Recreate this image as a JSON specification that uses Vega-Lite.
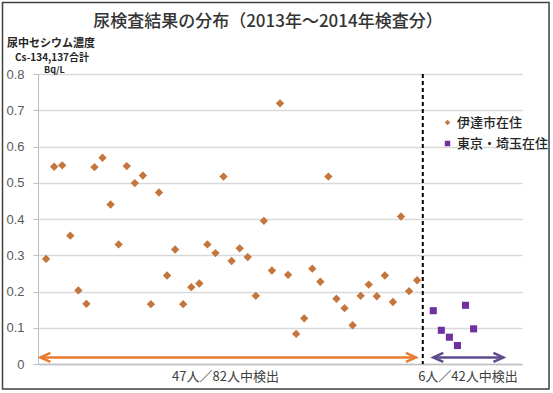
{
  "$schema": "https://vega.github.io/schema/vega-lite/v6.json",
  "width": 484,
  "height": 290,
  "autosize": "none",
  "padding": {"left": 38, "top": 74, "right": 31, "bottom": 29},
  "background": "white",
  "config": {
    "view": {"stroke": null},
    "font": "Noto Sans CJK JP",
    "text": {"font": "Noto Sans CJK JP"},
    "axisY": {
      "title": null,
      "tickCount": 8,
      "labelOverlap": false,
      "format": ".1~f",
      "grid": true, "gridColor": "#d9d9d9", "gridWidth": 1.5,
      "domainColor": "#bfbfbf", "domainWidth": 1,
      "tickColor": "#bfbfbf", "tickSize": 5,
      "labelFont": "Liberation Sans", "labelFontSize": 13, "labelColor": "#595959",
      "labelPadding": 9
    },
    "axisX": {
      "title": null, "labels": false, "ticks": false, "grid": false,
      "domainColor": "#bfbfbf", "domainWidth": 1.5
    }
  },
  "data": {"values": [{}]},
  "datasets": {
    "urine": [
      {"n": 1, "v": 0.29, "group": "伊達市在住"},
      {"n": 2, "v": 0.544, "group": "伊達市在住"},
      {"n": 3, "v": 0.548, "group": "伊達市在住"},
      {"n": 4, "v": 0.354, "group": "伊達市在住"},
      {"n": 5, "v": 0.203, "group": "伊達市在住"},
      {"n": 6, "v": 0.166, "group": "伊達市在住"},
      {"n": 7, "v": 0.543, "group": "伊達市在住"},
      {"n": 8, "v": 0.569, "group": "伊達市在住"},
      {"n": 9, "v": 0.44, "group": "伊達市在住"},
      {"n": 10, "v": 0.33, "group": "伊達市在住"},
      {"n": 11, "v": 0.546, "group": "伊達市在住"},
      {"n": 12, "v": 0.499, "group": "伊達市在住"},
      {"n": 13, "v": 0.52, "group": "伊達市在住"},
      {"n": 14, "v": 0.165, "group": "伊達市在住"},
      {"n": 15, "v": 0.473, "group": "伊達市在住"},
      {"n": 16, "v": 0.244, "group": "伊達市在住"},
      {"n": 17, "v": 0.316, "group": "伊達市在住"},
      {"n": 18, "v": 0.165, "group": "伊達市在住"},
      {"n": 19, "v": 0.212, "group": "伊達市在住"},
      {"n": 20, "v": 0.222, "group": "伊達市在住"},
      {"n": 21, "v": 0.33, "group": "伊達市在住"},
      {"n": 22, "v": 0.306, "group": "伊達市在住"},
      {"n": 23, "v": 0.517, "group": "伊達市在住"},
      {"n": 24, "v": 0.284, "group": "伊達市在住"},
      {"n": 25, "v": 0.319, "group": "伊達市在住"},
      {"n": 26, "v": 0.295, "group": "伊達市在住"},
      {"n": 27, "v": 0.188, "group": "伊達市在住"},
      {"n": 28, "v": 0.395, "group": "伊達市在住"},
      {"n": 29, "v": 0.258, "group": "伊達市在住"},
      {"n": 30, "v": 0.719, "group": "伊達市在住"},
      {"n": 31, "v": 0.246, "group": "伊達市在住"},
      {"n": 32, "v": 0.083, "group": "伊達市在住"},
      {"n": 33, "v": 0.126, "group": "伊達市在住"},
      {"n": 34, "v": 0.263, "group": "伊達市在住"},
      {"n": 35, "v": 0.227, "group": "伊達市在住"},
      {"n": 36, "v": 0.517, "group": "伊達市在住"},
      {"n": 37, "v": 0.18, "group": "伊達市在住"},
      {"n": 38, "v": 0.154, "group": "伊達市在住"},
      {"n": 39, "v": 0.107, "group": "伊達市在住"},
      {"n": 40, "v": 0.188, "group": "伊達市在住"},
      {"n": 41, "v": 0.219, "group": "伊達市在住"},
      {"n": 42, "v": 0.187, "group": "伊達市在住"},
      {"n": 43, "v": 0.244, "group": "伊達市在住"},
      {"n": 44, "v": 0.171, "group": "伊達市在住"},
      {"n": 45, "v": 0.407, "group": "伊達市在住"},
      {"n": 46, "v": 0.201, "group": "伊達市在住"},
      {"n": 47, "v": 0.231, "group": "伊達市在住"},
      {"n": 49, "v": 0.147, "group": "東京・埼玉在住"},
      {"n": 50, "v": 0.093, "group": "東京・埼玉在住"},
      {"n": 51, "v": 0.074, "group": "東京・埼玉在住"},
      {"n": 52, "v": 0.051, "group": "東京・埼玉在住"},
      {"n": 53, "v": 0.162, "group": "東京・埼玉在住"},
      {"n": 54, "v": 0.097, "group": "東京・埼玉在住"}
    ]
  },
  "layer": [
    {
      "data": {"name": "urine"},
      "transform": [{"filter": "datum.group === '伊達市在住'"}],
      "mark": {"type": "point", "filled": true, "opacity": 1, "size": 70},
      "encoding": {
        "x": {
          "field": "n", "type": "quantitative",
          "scale": {"domain": [0, 60], "nice": false, "zero": false}
        },
        "y": {
          "field": "v", "type": "quantitative",
          "scale": {"domain": [0, 0.8], "nice": false}
        },
        "color": {
          "field": "group", "type": "nominal",
          "scale": {"domain": ["伊達市在住", "東京・埼玉在住"], "range": ["#c4763c", "#7030a0"]},
          "legend": {
            "title": null, "orient": "none", "legendX": 403, "legendY": 42,
            "padding": 0, "symbolSize": 30, "rowPadding": 7, "labelOffset": 3,
            "labelFont": "Noto Sans CJK JP", "labelFontSize": 13, "labelFontWeight": 500, "labelColor": "#262626", "labelLimit": 200
          }
        },
        "shape": {
          "field": "group", "type": "nominal",
          "scale": {"domain": ["伊達市在住", "東京・埼玉在住"], "range": ["diamond", "square"]}
        }
      }
    },
    {
      "data": {"name": "urine"},
      "transform": [{"filter": "datum.group !== '伊達市在住'"}],
      "mark": {"type": "point", "filled": true, "opacity": 1, "size": 50},
      "encoding": {
        "x": {"field": "n", "type": "quantitative"},
        "y": {"field": "v", "type": "quantitative"},
        "color": {"field": "group", "type": "nominal"},
        "shape": {"field": "group", "type": "nominal"}
      }
    },
    {
      "mark": {"type": "rule", "color": "#000000", "strokeWidth": 2, "strokeDash": [4, 3]},
      "encoding": {"x": {"datum": 47.7}}
    },
    {
      "mark": {"type": "rule", "color": "#e97a2f", "strokeWidth": 2.5},
      "encoding": {"x": {"datum": 0.3}, "x2": {"datum": 46.85}, "y": {"datum": 0.018}}
    },
    {
      "mark": {"type": "point", "shape": "M1,-0.45L0,0L1,0.45", "filled": false, "size": 400, "stroke": "#e97a2f", "strokeWidth": 2.5, "opacity": 1},
      "encoding": {"x": {"datum": 0.3}, "y": {"datum": 0.018}}
    },
    {
      "mark": {"type": "point", "shape": "M-1,-0.45L0,0L-1,0.45", "filled": false, "size": 400, "stroke": "#e97a2f", "strokeWidth": 2.5, "opacity": 1},
      "encoding": {"x": {"datum": 46.85}, "y": {"datum": 0.018}}
    },
    {
      "mark": {"type": "rule", "color": "#5e4b8e", "strokeWidth": 2.5},
      "encoding": {"x": {"datum": 49.0}, "x2": {"datum": 57.7}, "y": {"datum": 0.018}}
    },
    {
      "mark": {"type": "point", "shape": "M1,-0.45L0,0L1,0.45", "filled": false, "size": 400, "stroke": "#5e4b8e", "strokeWidth": 2.5, "opacity": 1},
      "encoding": {"x": {"datum": 49.0}, "y": {"datum": 0.018}}
    },
    {
      "mark": {"type": "point", "shape": "M-1,-0.45L0,0L-1,0.45", "filled": false, "size": 400, "stroke": "#5e4b8e", "strokeWidth": 2.5, "opacity": 1},
      "encoding": {"x": {"datum": 57.7}, "y": {"datum": 0.018}}
    },
    {
      "mark": {"type": "text", "text": "47人／82人中検出", "fontSize": 13, "color": "#404040", "align": "center", "baseline": "middle"},
      "encoding": {"x": {"datum": 23.24}, "y": {"datum": -0.036}}
    },
    {
      "mark": {"type": "text", "text": "6人／42人中検出", "fontSize": 13, "color": "#404040", "align": "center", "baseline": "middle"},
      "encoding": {"x": {"datum": 53.3}, "y": {"datum": -0.036}}
    },
    {
      "mark": {"type": "text", "text": "尿検査結果の分布（2013年～2014年検査分）", "fontSize": 17, "fontWeight": 500, "color": "#333333", "align": "center", "baseline": "middle"},
      "encoding": {"x": {"datum": 28.5}, "y": {"datum": 0.943}}
    },
    {
      "mark": {"type": "text", "text": "尿中セシウム濃度", "fontSize": 11, "fontWeight": "bold", "color": "#262626", "align": "left", "baseline": "middle"},
      "encoding": {"x": {"datum": -3.84}, "y": {"datum": 0.882}}
    },
    {
      "mark": {"type": "text", "text": "Cs-134,137合計", "fontSize": 10, "fontWeight": "bold", "color": "#262626", "align": "left", "baseline": "middle"},
      "encoding": {"x": {"datum": -2.85}, "y": {"datum": 0.843}}
    },
    {
      "mark": {"type": "text", "text": "Bq/L", "fontSize": 9, "fontWeight": "bold", "color": "#262626", "align": "left", "baseline": "middle"},
      "encoding": {"x": {"datum": 0.75}, "y": {"datum": 0.81}}
    },
    {
      "mark": {"type": "rect", "fill": null, "stroke": "#404040", "strokeWidth": 1.5},
      "encoding": {"x": {"datum": -4.4}, "x2": {"datum": 63.35}, "y": {"datum": 0.997}, "y2": {"datum": -0.069}}
    }
  ]
}
